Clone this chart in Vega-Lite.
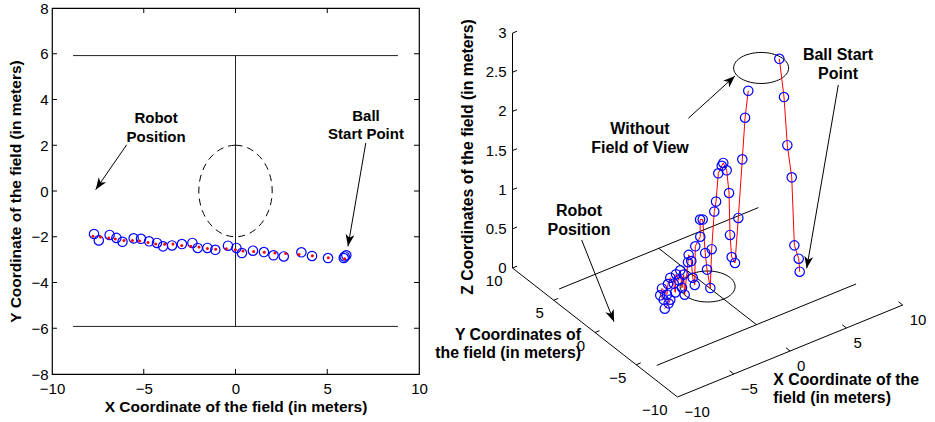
{
  "$schema": "https://vega.github.io/schema/vega-lite/v6.json",
  "width": 367,
  "height": 366,
  "autosize": {"type": "none"},
  "padding": {"left": 52, "top": 8, "right": 516, "bottom": 48},
  "background": "white",
  "config": {
    "view": {"stroke": "black", "strokeWidth": 1.2},
    "font": "Liberation Sans"
  },
  "resolve": {"scale": {"x": "independent", "y": "independent"}},
  "datasets": {
    "field2d": [
      {"x": -8.85, "y": 5.92, "x2": 8.85, "y2": 5.92},
      {"x": -8.85, "y": -5.92, "x2": 8.85, "y2": -5.92},
      {"x": 0, "y": -5.92, "x2": 0, "y2": 5.92}
    ],
    "ticks2d": [
      {"x": -5, "y": -8, "x2": -5, "y2": -7.78},
      {"x": 0, "y": -8, "x2": 0, "y2": -7.78},
      {"x": 5, "y": -8, "x2": 5, "y2": -7.78},
      {"x": -5, "y": 8, "x2": -5, "y2": 7.78},
      {"x": 0, "y": 8, "x2": 0, "y2": 7.78},
      {"x": 5, "y": 8, "x2": 5, "y2": 7.78},
      {"x": -10, "y": -6, "x2": -9.73, "y2": -6},
      {"x": -10, "y": -4, "x2": -9.73, "y2": -4},
      {"x": -10, "y": -2, "x2": -9.73, "y2": -2},
      {"x": -10, "y": 0, "x2": -9.73, "y2": 0},
      {"x": -10, "y": 2, "x2": -9.73, "y2": 2},
      {"x": -10, "y": 4, "x2": -9.73, "y2": 4},
      {"x": -10, "y": 6, "x2": -9.73, "y2": 6},
      {"x": 10, "y": -6, "x2": 9.73, "y2": -6},
      {"x": 10, "y": -4, "x2": 9.73, "y2": -4},
      {"x": 10, "y": -2, "x2": 9.73, "y2": -2},
      {"x": 10, "y": 0, "x2": 9.73, "y2": 0},
      {"x": 10, "y": 2, "x2": 9.73, "y2": 2},
      {"x": 10, "y": 4, "x2": 9.73, "y2": 4},
      {"x": 10, "y": 6, "x2": 9.73, "y2": 6}
    ],
    "meas2d": [
      {"x": -7.71, "y": -1.88}, {"x": -7.45, "y": -2.16}, {"x": -6.86, "y": -1.92},
      {"x": -6.49, "y": -2.05}, {"x": -6.16, "y": -2.22}, {"x": -5.55, "y": -2.07},
      {"x": -5.15, "y": -2.09}, {"x": -4.71, "y": -2.2}, {"x": -4.28, "y": -2.27},
      {"x": -3.95, "y": -2.42}, {"x": -3.46, "y": -2.38}, {"x": -2.92, "y": -2.32},
      {"x": -2.35, "y": -2.27}, {"x": -2.06, "y": -2.49}, {"x": -1.53, "y": -2.49},
      {"x": -1.1, "y": -2.57}, {"x": -0.41, "y": -2.39}, {"x": 0.05, "y": -2.49},
      {"x": 0.35, "y": -2.71}, {"x": 0.95, "y": -2.61}, {"x": 1.55, "y": -2.67},
      {"x": 2.07, "y": -2.81}, {"x": 2.63, "y": -2.86}, {"x": 3.59, "y": -2.68},
      {"x": 4.17, "y": -2.84}, {"x": 5.04, "y": -2.93}, {"x": 5.95, "y": -2.86},
      {"x": 6.04, "y": -2.81}, {"x": 5.9, "y": -2.93}
    ],
    "est2d": [
      {"x": -7.77, "y": -1.98}, {"x": -7.36, "y": -2.01}, {"x": -6.91, "y": -2.05},
      {"x": -6.55, "y": -2.1}, {"x": -6.08, "y": -2.16}, {"x": -5.62, "y": -2.16},
      {"x": -5.22, "y": -2.19}, {"x": -4.77, "y": -2.25}, {"x": -4.35, "y": -2.32},
      {"x": -3.86, "y": -2.33}, {"x": -3.41, "y": -2.32}, {"x": -2.93, "y": -2.38},
      {"x": -2.44, "y": -2.42}, {"x": -1.99, "y": -2.45}, {"x": -1.53, "y": -2.51},
      {"x": -1.08, "y": -2.55}, {"x": -0.5, "y": -2.52}, {"x": -0.01, "y": -2.57},
      {"x": 0.41, "y": -2.62}, {"x": 0.99, "y": -2.65}, {"x": 1.57, "y": -2.68},
      {"x": 2.15, "y": -2.71}, {"x": 2.74, "y": -2.73}, {"x": 3.46, "y": -2.78},
      {"x": 4.19, "y": -2.83}, {"x": 5.06, "y": -2.92}, {"x": 5.95, "y": -2.96}
    ],
    "arrows2d": [
      {"x": -5.93, "y": 2.02, "x2": -7.62, "y2": 0.06},
      {"x": 7.1, "y": 2.1, "x2": 6.13, "y2": -2.42}
    ],
    "text2d": [
      {"x": -4.33, "y": 3.2, "label": "Robot"},
      {"x": -4.33, "y": 2.37, "label": "Position"},
      {"x": 7.11, "y": 3.28, "label": "Ball"},
      {"x": 7.11, "y": 2.49, "label": "Start Point"}
    ],
    "lines3d": [
      {"kind": "field", "x": -8.85, "y": 5.92, "z": 0, "x2": 8.85, "y2": 5.92, "z2": 0},
      {"kind": "field", "x": -8.85, "y": -5.92, "z": 0, "x2": 8.85, "y2": -5.92, "z2": 0},
      {"kind": "field", "x": 0, "y": -5.92, "z": 0, "x2": 0, "y2": 5.92, "z2": 0},
      {"kind": "axis", "x": -10, "y": -10, "z": 0, "x2": -10, "y2": 10, "z2": 0},
      {"kind": "axis", "x": -10, "y": -10, "z": 0, "x2": 10, "y2": -10, "z2": 0},
      {"kind": "axis", "x": -10, "y": 10, "z": 0, "x2": -10, "y2": 10, "z2": 3},
      {"kind": "tick", "x": -5, "y": -10, "z": 0, "x2": -5, "y2": -9.5, "z2": 0},
      {"kind": "tick", "x": 0, "y": -10, "z": 0, "x2": 0, "y2": -9.5, "z2": 0},
      {"kind": "tick", "x": 5, "y": -10, "z": 0, "x2": 5, "y2": -9.5, "z2": 0},
      {"kind": "tick", "x": 10, "y": -10, "z": 0, "x2": 10, "y2": -9.5, "z2": 0},
      {"kind": "tick", "x": -10, "y": -5, "z": 0, "x2": -9.6, "y2": -5, "z2": 0},
      {"kind": "tick", "x": -10, "y": 0, "z": 0, "x2": -9.6, "y2": 0, "z2": 0},
      {"kind": "tick", "x": -10, "y": 5, "z": 0, "x2": -9.6, "y2": 5, "z2": 0},
      {"kind": "tick", "x": -10, "y": 10, "z": 0, "x2": -9.6, "y2": 10, "z2": 0},
      {"kind": "tick", "x": -10, "y": 10, "z": 0.5, "x2": -9.6, "y2": 10, "z2": 0.5},
      {"kind": "tick", "x": -10, "y": 10, "z": 1, "x2": -9.6, "y2": 10, "z2": 1},
      {"kind": "tick", "x": -10, "y": 10, "z": 1.5, "x2": -9.6, "y2": 10, "z2": 1.5},
      {"kind": "tick", "x": -10, "y": 10, "z": 2, "x2": -9.6, "y2": 10, "z2": 2},
      {"kind": "tick", "x": -10, "y": 10, "z": 2.5, "x2": -9.6, "y2": 10, "z2": 2.5},
      {"kind": "tick", "x": -10, "y": 10, "z": 3, "x2": -9.6, "y2": 10, "z2": 3}
    ],
    "ell3d": [
      {"x": 0, "y": 0, "z": 0},
      {"x": 3.36, "y": -1.9, "z": 2.75}
    ],
    "traj3d": [
      {"seg": 1, "i": 1, "x": 6.01, "y": -2.96, "z": 0.08},
      {"seg": 1, "i": 2, "x": 5.93, "y": -2.95, "z": 0.25},
      {"seg": 1, "i": 3, "x": 5.56, "y": -2.93, "z": 0.44},
      {"seg": 1, "i": 4, "x": 5.34, "y": -2.91, "z": 1.32},
      {"seg": 1, "i": 5, "x": 4.97, "y": -2.88, "z": 1.75},
      {"seg": 1, "i": 6, "x": 4.69, "y": -2.86, "z": 2.38},
      {"seg": 1, "i": 7, "x": 4.29, "y": -2.84, "z": 2.89},
      {"seg": 2, "i": 1, "x": 1.67, "y": -2.65, "z": 2.62},
      {"seg": 2, "i": 2, "x": 1.4, "y": -2.63, "z": 2.29},
      {"seg": 2, "i": 3, "x": 1.17, "y": -2.61, "z": 1.77},
      {"seg": 2, "i": 4, "x": 0.83, "y": -2.59, "z": 1.04},
      {"seg": 2, "i": 5, "x": 0.55, "y": -2.57, "z": 0.48},
      {"seg": 2, "i": 6, "x": 0.27, "y": -2.55, "z": 0.57},
      {"seg": 2, "i": 7, "x": 0.13, "y": -2.54, "z": 0.86},
      {"seg": 2, "i": 8, "x": 0.05, "y": -2.53, "z": 1.4},
      {"seg": 2, "i": 9, "x": -0.15, "y": -2.52, "z": 1.7},
      {"seg": 2, "i": 10, "x": -0.44, "y": -2.5, "z": 1.81},
      {"seg": 2, "i": 11, "x": -0.57, "y": -2.49, "z": 1.78},
      {"seg": 2, "i": 12, "x": -0.86, "y": -2.47, "z": 1.7},
      {"seg": 2, "i": 13, "x": -1.05, "y": -2.46, "z": 1.35},
      {"seg": 2, "i": 14, "x": -1.2, "y": -2.45, "z": 1.23},
      {"seg": 2, "i": 15, "x": -1.42, "y": -2.43, "z": 0.76},
      {"seg": 2, "i": 16, "x": -1.53, "y": -2.42, "z": 0.27},
      {"seg": 2, "i": 17, "x": -1.81, "y": -2.4, "z": 0.52},
      {"seg": 2, "i": 18, "x": -1.96, "y": -2.39, "z": 0.74},
      {"seg": 2, "i": 19, "x": -2.18, "y": -2.38, "z": 1.18},
      {"seg": 2, "i": 20, "x": -2.4, "y": -2.36, "z": 1.19},
      {"seg": 2, "i": 21, "x": -2.38, "y": -2.36, "z": 0.97},
      {"seg": 2, "i": 22, "x": -2.8, "y": -2.33, "z": 0.87},
      {"seg": 2, "i": 23, "x": -2.85, "y": -2.33, "z": 0.38},
      {"seg": 2, "i": 24, "x": -3.02, "y": -2.32, "z": 0.48},
      {"seg": 2, "i": 25, "x": -3.14, "y": -2.31, "z": 0.7},
      {"seg": 2, "i": 26, "x": -3.36, "y": -2.29, "z": 0.79},
      {"seg": 2, "i": 27, "x": -3.42, "y": -2.29, "z": 0.7},
      {"seg": 2, "i": 28, "x": -3.7, "y": -2.27, "z": 0.3},
      {"seg": 2, "i": 29, "x": -3.78, "y": -2.26, "z": 0.56},
      {"seg": 2, "i": 30, "x": -3.92, "y": -2.25, "z": 0.4},
      {"seg": 2, "i": 31, "x": -4.07, "y": -2.24, "z": 0.63},
      {"seg": 2, "i": 32, "x": -4.2, "y": -2.23, "z": 0.51},
      {"seg": 2, "i": 33, "x": -4.43, "y": -2.22, "z": 0.6},
      {"seg": 2, "i": 34, "x": -4.49, "y": -2.21, "z": 0.37},
      {"seg": 2, "i": 35, "x": -4.62, "y": -2.2, "z": 0.49},
      {"seg": 2, "i": 36, "x": -4.91, "y": -2.18, "z": 0.58},
      {"seg": 2, "i": 37, "x": -5.11, "y": -2.17, "z": 0.51},
      {"seg": 2, "i": 38, "x": -5.19, "y": -2.16, "z": 0.38},
      {"seg": 2, "i": 39, "x": -5.61, "y": -2.13, "z": 0.48},
      {"seg": 2, "i": 40, "x": -5.76, "y": -2.12, "z": 0.4},
      {"seg": 2, "i": 41, "x": -5.47, "y": -2.14, "z": 0.33},
      {"seg": 2, "i": 42, "x": -4.91, "y": -2.18, "z": 0.3},
      {"seg": 2, "i": 43, "x": -5.05, "y": -2.17, "z": 0.26},
      {"seg": 2, "i": 44, "x": -5.38, "y": -2.15, "z": 0.21}
    ],
    "xlab3d": [
      {"x": -10, "y": -10, "z": 0, "label": "−10"},
      {"x": -5, "y": -10, "z": 0, "label": "−5"},
      {"x": 0, "y": -10, "z": 0, "label": "0"},
      {"x": 5, "y": -10, "z": 0, "label": "5"},
      {"x": 10, "y": -10, "z": 0, "label": "10"}
    ],
    "ylab3d": [
      {"x": -10, "y": 10, "z": 0, "label": "10"},
      {"x": -10, "y": 5, "z": 0, "label": "5"},
      {"x": -10, "y": 0, "z": 0, "label": "0"},
      {"x": -10, "y": -5, "z": 0, "label": "−5"},
      {"x": -10, "y": -10, "z": 0, "label": "−10"}
    ],
    "zlab3d": [
      {"x": -10, "y": 10, "z": 0, "label": "0"},
      {"x": -10, "y": 10, "z": 0.5, "label": "0.5"},
      {"x": -10, "y": 10, "z": 1, "label": "1"},
      {"x": -10, "y": 10, "z": 1.5, "label": "1.5"},
      {"x": -10, "y": 10, "z": 2, "label": "2"},
      {"x": -10, "y": 10, "z": 2.5, "label": "2.5"},
      {"x": -10, "y": 10, "z": 3, "label": "3"}
    ],
    "arrowsR": [
      {"P": 10.8, "Q": 278.7, "P2": 57.5, "Q2": 321},
      {"P": 160.8, "Q": 312, "P2": 129.2, "Q2": 128.7},
      {"P": -95.8, "Q": 157, "P2": -63.5, "Q2": 75.3}
    ],
    "annotR": [
      {"P": -37.5, "Q": 268, "label": "Without"},
      {"P": -37.5, "Q": 249, "label": "Field of View"},
      {"P": 160.5, "Q": 342, "label": "Ball Start"},
      {"P": 160.5, "Q": 323, "label": "Point"},
      {"P": -98.5, "Q": 186, "label": "Robot"},
      {"P": -98.5, "Q": 167, "label": "Position"}
    ]
  },
  "layer": [
    {
      "data": {"name": "field2d"},
      "mark": {"type": "rule", "color": "#222", "strokeWidth": 1},
      "encoding": {
        "x": {"field": "x", "type": "quantitative",
          "scale": {"domain": [-10, 10], "nice": false, "zero": false},
          "axis": {"values": [-10, -5, 0, 5, 10], "title": "X Coordinate of the field (in meters)",
            "titleFontSize": 15.5, "titleFontWeight": "bold", "titleColor": "black", "titleFont": "Liberation Sans",
            "labelFontSize": 15, "labelColor": "black", "labelFont": "Liberation Sans", "labelFlush": false, "labelOverlap": false,
            "ticks": false, "domain": false, "grid": false, "labelPadding": 7, "titlePadding": 3}},
        "y": {"field": "y", "type": "quantitative",
          "scale": {"domain": [-8, 8], "nice": false, "zero": false},
          "axis": {"values": [-8, -6, -4, -2, 0, 2, 4, 6, 8], "title": "Y Coordinate of the field (in meters)",
            "titleFontSize": 15.5, "titleFontWeight": "bold", "titleColor": "black", "titleFont": "Liberation Sans",
            "labelFontSize": 15, "labelColor": "black", "labelFont": "Liberation Sans", "labelFlush": false, "labelOverlap": false,
            "ticks": false, "domain": false, "grid": false, "labelPadding": 4, "titlePadding": 7}},
        "x2": {"field": "x2"},
        "y2": {"field": "y2"}
      }
    },
    {
      "data": {"name": "ticks2d"},
      "mark": {"type": "rule", "color": "black", "strokeWidth": 1},
      "encoding": {
        "x": {"field": "x", "type": "quantitative", "scale": {"domain": [-10, 10], "nice": false, "zero": false}, "axis": null},
        "y": {"field": "y", "type": "quantitative", "scale": {"domain": [-8, 8], "nice": false, "zero": false}, "axis": null},
        "x2": {"field": "x2"},
        "y2": {"field": "y2"}
      }
    },
    {
      "data": {"values": [{"x": 0, "y": 0}]},
      "mark": {"type": "point", "shape": "M0,-1.2466A1,1.2466,0,1,1,0,1.2466A1,1.2466,0,1,1,0,-1.2466Z",
        "size": 5388, "filled": false, "stroke": "black", "strokeWidth": 1, "strokeDash": [7, 5], "opacity": 1},
      "encoding": {
        "x": {"field": "x", "type": "quantitative", "scale": {"domain": [-10, 10], "nice": false, "zero": false}, "axis": null},
        "y": {"field": "y", "type": "quantitative", "scale": {"domain": [-8, 8], "nice": false, "zero": false}, "axis": null}
      }
    },
    {
      "data": {"name": "arrows2d"},
      "mark": {"type": "rule", "color": "black", "strokeWidth": 1},
      "encoding": {
        "x": {"field": "x", "type": "quantitative", "scale": {"domain": [-10, 10], "nice": false, "zero": false}, "axis": null},
        "y": {"field": "y", "type": "quantitative", "scale": {"domain": [-8, 8], "nice": false, "zero": false}, "axis": null},
        "x2": {"field": "x2"},
        "y2": {"field": "y2"}
      }
    },
    {
      "data": {"values": [{"x": -7.62, "y": 0.06}]},
      "mark": {"type": "point", "shape": "M0,0L-0.6,1.6L0,1.15L0.6,1.6Z", "size": 225, "filled": true, "color": "black", "opacity": 1, "angle": 214.3},
      "encoding": {
        "x": {"field": "x", "type": "quantitative", "scale": {"domain": [-10, 10], "nice": false, "zero": false}, "axis": null},
        "y": {"field": "y", "type": "quantitative", "scale": {"domain": [-8, 8], "nice": false, "zero": false}, "axis": null}
      }
    },
    {
      "data": {"values": [{"x": 6.13, "y": -2.42}]},
      "mark": {"type": "point", "shape": "M0,0L-0.6,1.6L0,1.15L0.6,1.6Z", "size": 225, "filled": true, "color": "black", "opacity": 1, "angle": 189.7},
      "encoding": {
        "x": {"field": "x", "type": "quantitative", "scale": {"domain": [-10, 10], "nice": false, "zero": false}, "axis": null},
        "y": {"field": "y", "type": "quantitative", "scale": {"domain": [-8, 8], "nice": false, "zero": false}, "axis": null}
      }
    },
    {
      "data": {"name": "meas2d"},
      "mark": {"type": "point", "shape": "circle", "size": 88, "filled": false, "stroke": "#0000ff", "strokeWidth": 1.2, "opacity": 1},
      "encoding": {
        "x": {"field": "x", "type": "quantitative", "scale": {"domain": [-10, 10], "nice": false, "zero": false}, "axis": null},
        "y": {"field": "y", "type": "quantitative", "scale": {"domain": [-8, 8], "nice": false, "zero": false}, "axis": null}
      }
    },
    {
      "data": {"name": "est2d"},
      "mark": {"type": "point", "shape": "circle", "size": 9, "filled": true, "color": "#ff0000", "opacity": 1},
      "encoding": {
        "x": {"field": "x", "type": "quantitative", "scale": {"domain": [-10, 10], "nice": false, "zero": false}, "axis": null},
        "y": {"field": "y", "type": "quantitative", "scale": {"domain": [-8, 8], "nice": false, "zero": false}, "axis": null}
      }
    },
    {
      "data": {"name": "text2d"},
      "mark": {"type": "text", "font": "Liberation Sans", "fontSize": 15, "fontWeight": "bold", "color": "black", "align": "center", "baseline": "middle"},
      "encoding": {
        "x": {"field": "x", "type": "quantitative", "scale": {"domain": [-10, 10], "nice": false, "zero": false}, "axis": null},
        "y": {"field": "y", "type": "quantitative", "scale": {"domain": [-8, 8], "nice": false, "zero": false}, "axis": null},
        "text": {"field": "label"}
      }
    },
    {
      "data": {"name": "lines3d"},
      "transform": [
        {"calculate": "11.26*(datum.x+10)-8.25*(datum.y+10)", "as": "P"},
        {"calculate": "4.6*(datum.x+10)+6.45*(datum.y+10)+78.3*datum.z", "as": "Q"},
        {"calculate": "11.26*(datum.x2+10)-8.25*(datum.y2+10)", "as": "P2"},
        {"calculate": "4.6*(datum.x2+10)+6.45*(datum.y2+10)+78.3*datum.z2", "as": "Q2"}
      ],
      "mark": {"type": "rule", "color": "black", "strokeWidth": 1},
      "encoding": {
        "x": {"field": "P", "type": "quantitative", "scale": {"domain": [-625.5, -258.5], "nice": false, "zero": false}, "axis": null},
        "y": {"field": "Q", "type": "quantitative", "scale": {"domain": [23, 389], "nice": false, "zero": false}, "axis": null},
        "x2": {"field": "P2"},
        "y2": {"field": "Q2"}
      }
    },
    {
      "data": {"name": "ell3d"},
      "transform": [
        {"calculate": "11.26*(datum.x+10)-8.25*(datum.y+10)", "as": "P"},
        {"calculate": "4.6*(datum.x+10)+6.45*(datum.y+10)+78.3*datum.z", "as": "Q"}
      ],
      "mark": {"type": "point", "shape": "M-1,0A1,0.5636,0,1,0,1,0A1,0.5636,0,1,0,-1,0Z", "size": 3025, "filled": false, "stroke": "black", "strokeWidth": 1, "opacity": 1},
      "encoding": {
        "x": {"field": "P", "type": "quantitative", "scale": {"domain": [-625.5, -258.5], "nice": false, "zero": false}, "axis": null},
        "y": {"field": "Q", "type": "quantitative", "scale": {"domain": [23, 389], "nice": false, "zero": false}, "axis": null}
      }
    },
    {
      "data": {"name": "traj3d"},
      "transform": [
        {"calculate": "11.26*(datum.x+10)-8.25*(datum.y+10)", "as": "P"},
        {"calculate": "4.6*(datum.x+10)+6.45*(datum.y+10)+78.3*datum.z", "as": "Q"}
      ],
      "mark": {"type": "line", "color": "#ff0000", "strokeWidth": 1},
      "encoding": {
        "x": {"field": "P", "type": "quantitative", "scale": {"domain": [-625.5, -258.5], "nice": false, "zero": false}, "axis": null},
        "y": {"field": "Q", "type": "quantitative", "scale": {"domain": [23, 389], "nice": false, "zero": false}, "axis": null},
        "detail": {"field": "seg"},
        "order": {"field": "i", "type": "quantitative"}
      }
    },
    {
      "data": {"name": "traj3d"},
      "transform": [
        {"calculate": "11.26*(datum.x+10)-8.25*(datum.y+10)", "as": "P"},
        {"calculate": "4.6*(datum.x+10)+6.45*(datum.y+10)+78.3*datum.z", "as": "Q"}
      ],
      "mark": {"type": "point", "shape": "circle", "size": 88, "filled": false, "stroke": "#0000ff", "strokeWidth": 1.2, "opacity": 1},
      "encoding": {
        "x": {"field": "P", "type": "quantitative", "scale": {"domain": [-625.5, -258.5], "nice": false, "zero": false}, "axis": null},
        "y": {"field": "Q", "type": "quantitative", "scale": {"domain": [23, 389], "nice": false, "zero": false}, "axis": null}
      }
    },
    {
      "data": {"name": "xlab3d"},
      "transform": [
        {"calculate": "11.26*(datum.x+10)-8.25*(datum.y+10)", "as": "P"},
        {"calculate": "4.6*(datum.x+10)+6.45*(datum.y+10)+78.3*datum.z", "as": "Q"}
      ],
      "mark": {"type": "text", "font": "Liberation Sans", "fontSize": 15, "color": "black", "align": "left", "baseline": "middle", "dx": 7, "dy": 15},
      "encoding": {
        "x": {"field": "P", "type": "quantitative", "scale": {"domain": [-625.5, -258.5], "nice": false, "zero": false}, "axis": null},
        "y": {"field": "Q", "type": "quantitative", "scale": {"domain": [23, 389], "nice": false, "zero": false}, "axis": null},
        "text": {"field": "label"}
      }
    },
    {
      "data": {"name": "ylab3d"},
      "transform": [
        {"calculate": "11.26*(datum.x+10)-8.25*(datum.y+10)", "as": "P"},
        {"calculate": "4.6*(datum.x+10)+6.45*(datum.y+10)+78.3*datum.z", "as": "Q"}
      ],
      "mark": {"type": "text", "font": "Liberation Sans", "fontSize": 15, "color": "black", "align": "right", "baseline": "middle", "dx": -10, "dy": 13},
      "encoding": {
        "x": {"field": "P", "type": "quantitative", "scale": {"domain": [-625.5, -258.5], "nice": false, "zero": false}, "axis": null},
        "y": {"field": "Q", "type": "quantitative", "scale": {"domain": [23, 389], "nice": false, "zero": false}, "axis": null},
        "text": {"field": "label"}
      }
    },
    {
      "data": {"name": "zlab3d"},
      "transform": [
        {"calculate": "11.26*(datum.x+10)-8.25*(datum.y+10)", "as": "P"},
        {"calculate": "4.6*(datum.x+10)+6.45*(datum.y+10)+78.3*datum.z", "as": "Q"}
      ],
      "mark": {"type": "text", "font": "Liberation Sans", "fontSize": 15, "color": "black", "align": "right", "baseline": "middle", "dx": -6},
      "encoding": {
        "x": {"field": "P", "type": "quantitative", "scale": {"domain": [-625.5, -258.5], "nice": false, "zero": false}, "axis": null},
        "y": {"field": "Q", "type": "quantitative", "scale": {"domain": [23, 389], "nice": false, "zero": false}, "axis": null},
        "text": {"field": "label"}
      }
    },
    {
      "data": {"name": "arrowsR"},
      "mark": {"type": "rule", "color": "black", "strokeWidth": 1},
      "encoding": {
        "x": {"field": "P", "type": "quantitative", "scale": {"domain": [-625.5, -258.5], "nice": false, "zero": false}, "axis": null},
        "y": {"field": "Q", "type": "quantitative", "scale": {"domain": [23, 389], "nice": false, "zero": false}, "axis": null},
        "x2": {"field": "P2"},
        "y2": {"field": "Q2"}
      }
    },
    {
      "data": {"values": [{"P": 57.5, "Q": 321}]},
      "mark": {"type": "point", "shape": "M0,0L-0.6,1.6L0,1.15L0.6,1.6Z", "size": 225, "filled": true, "color": "black", "opacity": 1, "angle": 47.8},
      "encoding": {
        "x": {"field": "P", "type": "quantitative", "scale": {"domain": [-625.5, -258.5], "nice": false, "zero": false}, "axis": null},
        "y": {"field": "Q", "type": "quantitative", "scale": {"domain": [23, 389], "nice": false, "zero": false}, "axis": null}
      }
    },
    {
      "data": {"values": [{"P": 129.2, "Q": 128.7}]},
      "mark": {"type": "point", "shape": "M0,0L-0.6,1.6L0,1.15L0.6,1.6Z", "size": 225, "filled": true, "color": "black", "opacity": 1, "angle": 189.8},
      "encoding": {
        "x": {"field": "P", "type": "quantitative", "scale": {"domain": [-625.5, -258.5], "nice": false, "zero": false}, "axis": null},
        "y": {"field": "Q", "type": "quantitative", "scale": {"domain": [23, 389], "nice": false, "zero": false}, "axis": null}
      }
    },
    {
      "data": {"values": [{"P": -63.5, "Q": 75.3}]},
      "mark": {"type": "point", "shape": "M0,0L-0.6,1.6L0,1.15L0.6,1.6Z", "size": 225, "filled": true, "color": "black", "opacity": 1, "angle": 158.4},
      "encoding": {
        "x": {"field": "P", "type": "quantitative", "scale": {"domain": [-625.5, -258.5], "nice": false, "zero": false}, "axis": null},
        "y": {"field": "Q", "type": "quantitative", "scale": {"domain": [23, 389], "nice": false, "zero": false}, "axis": null}
      }
    },
    {
      "data": {"name": "annotR"},
      "mark": {"type": "text", "font": "Liberation Sans", "fontSize": 16, "fontWeight": "bold", "color": "black", "align": "center", "baseline": "middle"},
      "encoding": {
        "x": {"field": "P", "type": "quantitative", "scale": {"domain": [-625.5, -258.5], "nice": false, "zero": false}, "axis": null},
        "y": {"field": "Q", "type": "quantitative", "scale": {"domain": [23, 389], "nice": false, "zero": false}, "axis": null},
        "text": {"field": "label"}
      }
    },
    {
      "data": {"values": [{"P": -209.5, "Q": 240, "label": "Z Coordinates of the field (in meters)"}]},
      "mark": {"type": "text", "font": "Liberation Sans", "fontSize": 15.8, "fontWeight": "bold", "color": "black", "align": "center", "baseline": "middle", "angle": 270},
      "encoding": {
        "x": {"field": "P", "type": "quantitative", "scale": {"domain": [-625.5, -258.5], "nice": false, "zero": false}, "axis": null},
        "y": {"field": "Q", "type": "quantitative", "scale": {"domain": [23, 389], "nice": false, "zero": false}, "axis": null},
        "text": {"field": "label"}
      }
    },
    {
      "data": {"values": [
        {"P": -96.5, "Q": 62, "label": "Y Coordinates of"},
        {"P": -96.5, "Q": 43.7, "label": "the field (in meters)"}
      ]},
      "mark": {"type": "text", "font": "Liberation Sans", "fontSize": 15.8, "fontWeight": "bold", "color": "black", "align": "right", "baseline": "middle"},
      "encoding": {
        "x": {"field": "P", "type": "quantitative", "scale": {"domain": [-625.5, -258.5], "nice": false, "zero": false}, "axis": null},
        "y": {"field": "Q", "type": "quantitative", "scale": {"domain": [23, 389], "nice": false, "zero": false}, "axis": null},
        "text": {"field": "label"}
      }
    },
    {
      "data": {"values": [
        {"P": 95.8, "Q": 17, "label": "X Coordinate of the"},
        {"P": 95.8, "Q": -1.3, "label": "field (in meters)"}
      ]},
      "mark": {"type": "text", "font": "Liberation Sans", "fontSize": 15.8, "fontWeight": "bold", "color": "black", "align": "left", "baseline": "middle"},
      "encoding": {
        "x": {"field": "P", "type": "quantitative", "scale": {"domain": [-625.5, -258.5], "nice": false, "zero": false}, "axis": null},
        "y": {"field": "Q", "type": "quantitative", "scale": {"domain": [23, 389], "nice": false, "zero": false}, "axis": null},
        "text": {"field": "label"}
      }
    }
  ]
}
